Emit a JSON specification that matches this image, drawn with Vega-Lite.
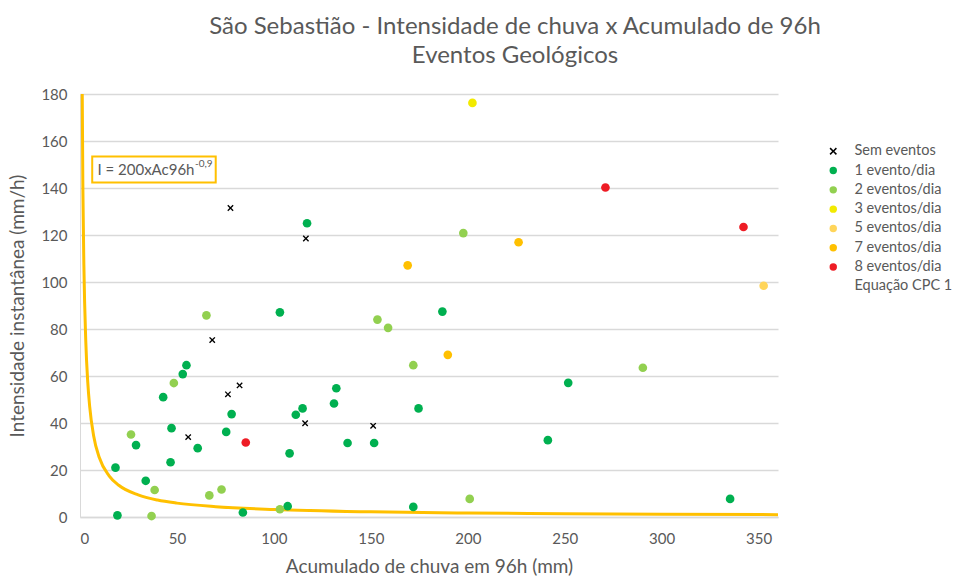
{
  "$schema": "https://vega.github.io/schema/vega-lite/v6.json",
  "width": 698,
  "height": 423,
  "autosize": {"type": "none"},
  "padding": {"left": 80, "top": 94, "right": 175, "bottom": 60},
  "background": "white",
  "config": {
    "font": "Lato",
    "view": {"stroke": null},
    "axis": {"labelFont": "Lato", "titleFont": "Lato", "labelColor": "#595959", "titleColor": "#595959", "labelFontSize": 15, "titleFontSize": 19, "titleFontWeight": "normal", "ticks": false}
  },
  "title": {
    "text": ["São Sebastião - Intensidade de chuva x Acumulado de 96h", "Eventos Geológicos"],
    "anchor": "middle",
    "dx": 86,
    "offset": 19,
    "fontSize": 24,
    "fontWeight": "normal",
    "color": "#595959",
    "font": "Lato",
    "lineHeight": 29
  },
  "datasets": {
    "pts": [
      {"x": 77.6, "y": 131.5, "serie": "Sem eventos"},
      {"x": 116.5, "y": 118.5, "serie": "Sem eventos"},
      {"x": 68.2, "y": 75.3, "serie": "Sem eventos"},
      {"x": 82.3, "y": 56.0, "serie": "Sem eventos"},
      {"x": 76.3, "y": 52.2, "serie": "Sem eventos"},
      {"x": 116.1, "y": 39.9, "serie": "Sem eventos"},
      {"x": 55.8, "y": 34.0, "serie": "Sem eventos"},
      {"x": 151.2, "y": 38.8, "serie": "Sem eventos"},
      {"x": 117.1, "y": 125.0, "serie": "1 evento/dia"},
      {"x": 103.1, "y": 87.1, "serie": "1 evento/dia"},
      {"x": 186.9, "y": 87.4, "serie": "1 evento/dia"},
      {"x": 54.9, "y": 64.6, "serie": "1 evento/dia"},
      {"x": 53.0, "y": 60.8, "serie": "1 evento/dia"},
      {"x": 42.9, "y": 51.0, "serie": "1 evento/dia"},
      {"x": 132.2, "y": 54.8, "serie": "1 evento/dia"},
      {"x": 131.0, "y": 48.3, "serie": "1 evento/dia"},
      {"x": 114.8, "y": 46.2, "serie": "1 evento/dia"},
      {"x": 111.3, "y": 43.5, "serie": "1 evento/dia"},
      {"x": 78.2, "y": 43.8, "serie": "1 evento/dia"},
      {"x": 174.6, "y": 46.2, "serie": "1 evento/dia"},
      {"x": 47.2, "y": 37.8, "serie": "1 evento/dia"},
      {"x": 75.4, "y": 36.2, "serie": "1 evento/dia"},
      {"x": 28.9, "y": 30.6, "serie": "1 evento/dia"},
      {"x": 60.7, "y": 29.3, "serie": "1 evento/dia"},
      {"x": 108.1, "y": 27.1, "serie": "1 evento/dia"},
      {"x": 138.0, "y": 31.5, "serie": "1 evento/dia"},
      {"x": 151.7, "y": 31.5, "serie": "1 evento/dia"},
      {"x": 241.3, "y": 32.7, "serie": "1 evento/dia"},
      {"x": 251.8, "y": 57.1, "serie": "1 evento/dia"},
      {"x": 18.3, "y": 21.0, "serie": "1 evento/dia"},
      {"x": 46.7, "y": 23.3, "serie": "1 evento/dia"},
      {"x": 33.9, "y": 15.4, "serie": "1 evento/dia"},
      {"x": 19.3, "y": 0.7, "serie": "1 evento/dia"},
      {"x": 84.0, "y": 1.9, "serie": "1 evento/dia"},
      {"x": 107.1, "y": 4.6, "serie": "1 evento/dia"},
      {"x": 171.9, "y": 4.3, "serie": "1 evento/dia"},
      {"x": 335.3, "y": 7.7, "serie": "1 evento/dia"},
      {"x": 65.2, "y": 85.8, "serie": "2 eventos/dia"},
      {"x": 48.4, "y": 57.0, "serie": "2 eventos/dia"},
      {"x": 26.3, "y": 35.1, "serie": "2 eventos/dia"},
      {"x": 38.5, "y": 11.5, "serie": "2 eventos/dia"},
      {"x": 73.0, "y": 11.7, "serie": "2 eventos/dia"},
      {"x": 66.7, "y": 9.2, "serie": "2 eventos/dia"},
      {"x": 36.9, "y": 0.4, "serie": "2 eventos/dia"},
      {"x": 103.1, "y": 3.3, "serie": "2 eventos/dia"},
      {"x": 153.4, "y": 84.0, "serie": "2 eventos/dia"},
      {"x": 158.9, "y": 80.5, "serie": "2 eventos/dia"},
      {"x": 171.9, "y": 64.6, "serie": "2 eventos/dia"},
      {"x": 197.7, "y": 120.8, "serie": "2 eventos/dia"},
      {"x": 201.0, "y": 7.7, "serie": "2 eventos/dia"},
      {"x": 290.3, "y": 63.5, "serie": "2 eventos/dia"},
      {"x": 202.4, "y": 176.2, "serie": "3 eventos/dia"},
      {"x": 352.6, "y": 98.4, "serie": "5 eventos/dia"},
      {"x": 169.0, "y": 107.1, "serie": "7 eventos/dia"},
      {"x": 226.2, "y": 116.9, "serie": "7 eventos/dia"},
      {"x": 189.7, "y": 69.0, "serie": "7 eventos/dia"},
      {"x": 271.0, "y": 140.2, "serie": "8 eventos/dia"},
      {"x": 342.2, "y": 123.4, "serie": "8 eventos/dia"},
      {"x": 85.5, "y": 31.7, "serie": "8 eventos/dia"}
    ],
    "curva": [
      {"x": 0.8, "y": 244.5},
      {"x": 1, "y": 200},
      {"x": 1.5, "y": 138.8},
      {"x": 2, "y": 107.2},
      {"x": 3, "y": 74.4},
      {"x": 4, "y": 57.4},
      {"x": 5, "y": 47.0},
      {"x": 7, "y": 34.7},
      {"x": 10, "y": 25.2},
      {"x": 15, "y": 17.5},
      {"x": 20, "y": 13.5},
      {"x": 30, "y": 9.4},
      {"x": 40, "y": 7.2},
      {"x": 50, "y": 5.9},
      {"x": 70, "y": 4.4},
      {"x": 100, "y": 3.2},
      {"x": 150, "y": 2.2},
      {"x": 200, "y": 1.7},
      {"x": 250, "y": 1.4},
      {"x": 300, "y": 1.18},
      {"x": 360, "y": 1.0}
    ]
  },
  "layer": [
    {
      "data": {"name": "curva"},
      "mark": {"type": "line", "color": "#FFC000", "strokeWidth": 3, "clip": true, "interpolate": "monotone"},
      "encoding": {
        "x": {"field": "x", "type": "quantitative", "scale": {"domain": [0, 360], "nice": false},
          "axis": {"values": [0, 50, 100, 150, 200, 250, 300, 350], "grid": false, "domainColor": "#D9D9D9", "domainWidth": 1.5, "labelPadding": 14, "title": "Acumulado de chuva em 96h (mm)", "titlePadding": 11}},
        "y": {"field": "y", "type": "quantitative", "scale": {"domain": [0, 180], "nice": false},
          "axis": {"values": [0, 20, 40, 60, 80, 100, 120, 140, 160, 180], "grid": true, "gridColor": "#D9D9D9", "gridWidth": 1.5, "domainColor": "#D9D9D9", "labelPadding": 13, "title": "Intensidade instantânea (mm/h)", "titlePadding": 13}}
      }
    },
    {
      "data": {"values": [{}]},
      "mark": {"type": "rect", "fill": "white", "stroke": "#FFC000", "strokeWidth": 2},
      "encoding": {
        "x": {"datum": 6.3},
        "x2": {"datum": 70.0},
        "y": {"datum": 153.4},
        "y2": {"datum": 142.3}
      }
    },
    {
      "data": {"values": [{}]},
      "mark": {"type": "text", "text": "I = 200xAc96h", "align": "left", "baseline": "middle", "fontSize": 15, "color": "#595959", "font": "Lato"},
      "encoding": {
        "x": {"datum": 9.0},
        "y": {"datum": 147.6}
      }
    },
    {
      "data": {"values": [{}]},
      "mark": {"type": "text", "text": "-0,9", "align": "left", "baseline": "middle", "fontSize": 10, "color": "#595959", "font": "Lato"},
      "encoding": {
        "x": {"datum": 59.3},
        "y": {"datum": 150.3}
      }
    },
    {
      "data": {"name": "pts"},
      "mark": {"type": "point", "filled": true, "opacity": 1, "size": 75},
      "encoding": {
        "x": {"field": "x", "type": "quantitative"},
        "y": {"field": "y", "type": "quantitative"},
        "color": {"field": "serie", "type": "nominal",
          "scale": {"domain": ["Sem eventos", "1 evento/dia", "2 eventos/dia", "3 eventos/dia", "5 eventos/dia", "7 eventos/dia", "8 eventos/dia", "Equação CPC 1"],
            "range": ["#000000", "#00B050", "#92D050", "#F2EA00", "#FFD55A", "#FFC000", "#EE1C25", "transparent"]},
          "legend": {"title": null, "orient": "none", "legendX": 746, "legendY": 50, "labelFontSize": 14.5, "labelFont": "Lato", "labelColor": "#595959", "symbolSize": 55, "rowPadding": 4.3, "labelOffset": 14, "symbolStrokeWidth": 0}},
        "shape": {"field": "serie", "type": "nominal",
          "scale": {"domain": ["Sem eventos", "1 evento/dia", "2 eventos/dia", "3 eventos/dia", "5 eventos/dia", "7 eventos/dia", "8 eventos/dia", "Equação CPC 1"],
            "range": ["M-1,-0.7L-0.7,-1L0,-0.3L0.7,-1L1,-0.7L0.3,0L1,0.7L0.7,1L0,0.3L-0.7,1L-1,0.7L-0.3,0Z", "circle", "circle", "circle", "circle", "circle", "circle", "circle"]}},
        "size": {"condition": {"test": "datum.serie === 'Sem eventos'", "value": 40}, "value": 75}
      }
    }
  ]
}
